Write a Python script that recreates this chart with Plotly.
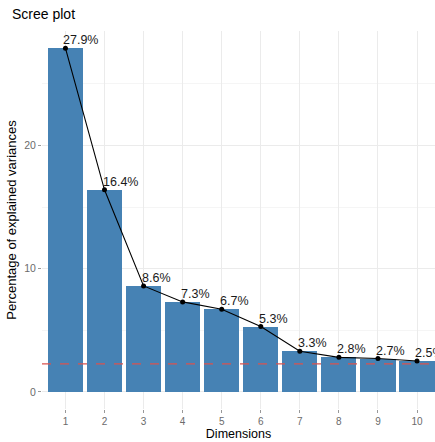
import plotly.graph_objects as go

dims = [1, 2, 3, 4, 5, 6, 7, 8, 9, 10]
variance_pct = [27.9, 16.4, 8.6, 7.3, 6.7, 5.3, 3.3, 2.8, 2.7, 2.5]
labels = [f"{v}%" for v in variance_pct]
ref_line = 2.27
y_ticks = [0, 10, 20]

fig = go.Figure()

fig.add_trace(go.Bar(
    x=dims, y=variance_pct, width=0.9,
    marker=dict(color="#4682B4", line=dict(width=0)),
    hoverinfo="skip", showlegend=False,
))

fig.add_trace(go.Scatter(
    x=dims, y=variance_pct, mode="lines+markers",
    line=dict(color="black", width=1.1),
    marker=dict(color="black", size=5),
    cliponaxis=False, showlegend=False,
))

# percentage labels sit just above each point, nudged to the right
for d, v, lab in zip(dims, variance_pct, labels):
    fig.add_annotation(
        x=d, y=v, text=lab, showarrow=False,
        xanchor="left", yanchor="bottom", xshift=-4, yshift=-1,
        font=dict(family="Liberation Sans, Arial, sans-serif", size=12.5, color="#1a1a1a"),
    )

fig.add_shape(
    type="line", xref="paper", x0=0, x1=1, yref="y", y0=ref_line, y1=ref_line,
    line=dict(color="#d9534f", width=1.2, dash="dash"), layer="above",
)

fig.update_layout(
    width=435, height=442,
    margin=dict(l=42, r=0, t=31, b=33),
    paper_bgcolor="white", plot_bgcolor="white",
    font=dict(family="Liberation Sans, Arial, sans-serif", color="#4d4d4d"),
    bargap=0,
    title=dict(text="Scree plot", x=12 / 435, xref="container", xanchor="left",
               y=1 - 9 / 442, yref="container", yanchor="top",
               font=dict(size=14, color="black")),
)

fig.update_xaxes(
    range=[0.4, 10.46], tickmode="array", tickvals=dims, ticktext=[str(d) for d in dims],
    showgrid=True, gridcolor="#ebebeb", gridwidth=1, zeroline=False,
    ticks="outside", ticklen=3, tickcolor="#999999", tickfont=dict(size=10, color="#6b6b6b"),
    title=dict(text="Dimensions", font=dict(size=12.5, color="black"), standoff=0),
    showline=False,
)

fig.update_yaxes(
    range=[-1.395, 29.295], tickmode="array", tickvals=y_ticks,
    showgrid=True, gridcolor="#ebebeb", gridwidth=1, zeroline=False,
    minor=dict(tickvals=[5, 15, 25], showgrid=True, gridcolor="#f5f5f5", gridwidth=1),
    ticks="outside", ticklen=3, tickcolor="#999999", tickfont=dict(size=10.5, color="#6b6b6b"),
    title=dict(text="Percentage of explained variances", font=dict(size=13, color="black"), standoff=4),
    showline=False,
)

fig.write_html("out.html")
